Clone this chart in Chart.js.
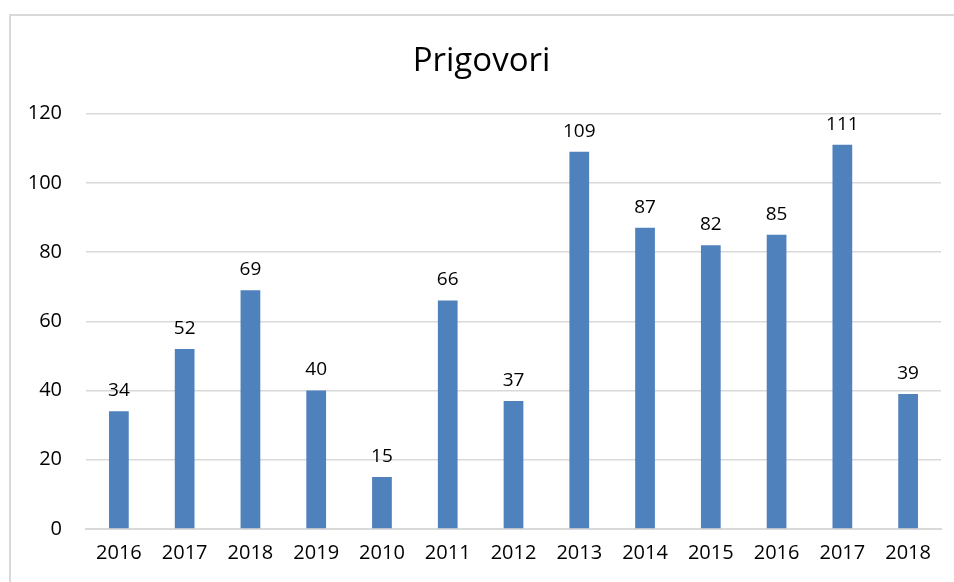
<!DOCTYPE html>
<html>
<head>
<meta charset="utf-8">
<script src="https://cdn.jsdelivr.net/npm/chart.js@4"></script>
<style>
  html, body { margin: 0; padding: 0; background: #fff; }
  body { width: 954px; height: 582px; position: relative; overflow: hidden; }
  #frame { position: absolute; left: 9px; top: 14px; width: 960px; height: 600px;
           border-left: 2px solid #d9d9d9; border-top: 2px solid #d9d9d9; box-sizing: border-box; }
  #wrap { position: absolute; left: 0; top: 0; width: 954px; height: 582px; }
</style>
</head>
<body>
<div id="frame"></div>
<div id="wrap"><canvas id="c" width="954" height="582"></canvas></div>
<script>
const categories = ["2016","2017","2018","2019","2010","2011","2012","2013","2014","2015","2016","2017","2018"];
const prigovori = [34, 52, 69, 40, 15, 66, 37, 109, 87, 82, 85, 111, 39];
const yTicks = [0, 20, 40, 60, 80, 100, 120];
const chartTitle = "Prigovori";

const FONT = "'Open Sans', 'Noto Sans', sans-serif";

const valueLabels = {
  id: 'valueLabels',
  afterDatasetsDraw(chart) {
    const ctx = chart.ctx;
    const meta = chart.getDatasetMeta(0);
    ctx.save();
    ctx.font = "19px " + FONT;
    ctx.fillStyle = "#000";
    ctx.textAlign = "center";
    ctx.textBaseline = "bottom";
    meta.data.forEach((bar, i) => {
      ctx.fillText(String(chart.data.datasets[0].data[i]), bar.x, bar.y - 11);
    });
    ctx.restore();
  }
};

new Chart(document.getElementById('c'), {
  type: 'bar',
  data: {
    labels: categories,
    datasets: [{
      label: chartTitle,
      data: prigovori,
      backgroundColor: '#4F81BD',
      barPercentage: 0.3,
      categoryPercentage: 1.0
    }]
  },
  options: {
    responsive: false,
    animation: false,
    devicePixelRatio: 1,
    layout: { padding: { top: 42, right: 13, left: 22, bottom: 0 } },
    plugins: {
      legend: { display: false },
      tooltip: { enabled: false },
      title: {
        display: true,
        text: chartTitle,
        color: '#000',
        font: { family: FONT, size: 33, weight: 'normal' },
        padding: { top: 0, bottom: 32 }
      }
    },
    scales: {
      x: {
        grid: { display: false, drawTicks: false },
        border: { display: true, color: '#d9d9d9', width: 2 },
        ticks: { color: '#000', font: { family: FONT, size: 20 }, padding: 12, maxRotation: 0, autoSkip: false },
        afterFit(s) { s.height = 53; }
      },
      y: {
        min: 0, max: 120,
        afterBuildTicks(s) { s.ticks = yTicks.map(v => ({ value: v })); },
        grid: { color: '#d9d9d9', lineWidth: 1.5, drawTicks: false },
        border: { display: false },
        ticks: { color: '#000', font: { family: FONT, size: 20 }, padding: 24 },
        afterFit(s) { s.width = 64; }
      }
    }
  },
  plugins: [valueLabels]
});
</script>
</body>
</html>
